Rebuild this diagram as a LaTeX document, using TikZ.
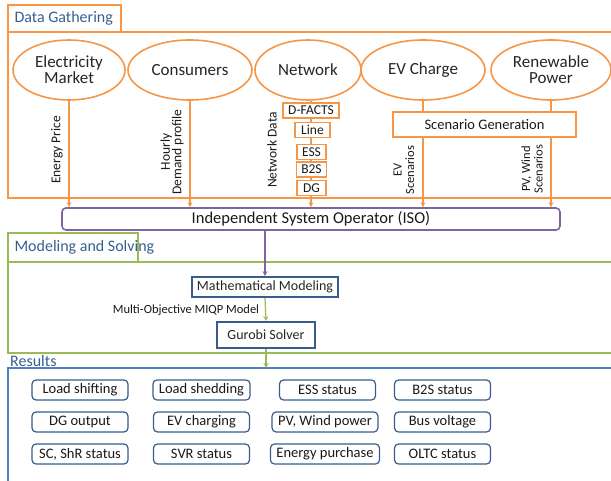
\documentclass[tikz,border=0pt]{standalone}
\usepackage{fontspec}
\setmainfont{Carlito}
\usetikzlibrary{shapes.geometric, arrows.meta}
\definecolor{gatherOrange}{RGB}{247, 150, 70}
\definecolor{solveGreen}{RGB}{155, 187, 89}
\definecolor{isoPurple}{RGB}{128, 100, 162}
\definecolor{resBlue}{RGB}{79, 129, 189}
\definecolor{boxDark}{RGB}{56, 93, 138}
\definecolor{titleBlue}{RGB}{54, 95, 145}
\tikzset{
  source/.style={ellipse, draw=gatherOrange, line width=1.6pt, minimum height=60pt, inner sep=1pt,
    text=black!85, align=center, font=\fontsize{17}{19}\selectfont},
  netbox/.style={draw=gatherOrange, line width=1.6pt, inner xsep=5pt, inner ysep=1pt,
    minimum height=15pt, text=black!90, font=\fontsize{13.5}{15}\selectfont},
  sidelabel/.style={rotate=90, align=center, text=black!90, font=\fontsize{13.5}{14.5}\selectfont},
  frametitle/.style={anchor=west, text=titleBlue, font=\fontsize{16}{18}\selectfont},
  stepbox/.style={draw=boxDark, line width=1.8pt, fill=white, text=black!85,
    font=\fontsize{14}{16}\selectfont},
  resbox/.style={draw=boxDark, line width=1.2pt, rounded corners=4pt, minimum width=96pt,
    minimum height=20pt, inner xsep=6pt, text=black!90, font=\fontsize{14.5}{16}\selectfont},
  arr/.style={-{Stealth[length=5pt, width=5pt]}, line width=1.2pt}
}
\begin{document}
\begin{tikzpicture}[x=1pt, y=-1pt]
  \useasboundingbox (0,0) rectangle (611,481);
  \clip (0,0) rectangle (611,481);

  % data gathering frame
  \draw[gatherOrange, line width=1.6pt] (8,5) rectangle (121,32);
  \draw[gatherOrange, line width=1.6pt] (8,32) rectangle (625,198);
  \node[frametitle] (tgather) at (11,18.5) {Data Gathering};

  \node[source, minimum width=112pt] (market) at (69,70) {Electricity\\[-3pt]Market};
  \node[source, minimum width=124pt] (cons) at (190,70) {Consumers};
  \node[source, minimum width=106pt] (net) at (308,70) {Network};
  \node[source, minimum width=124pt] (evc) at (423,70) {EV Charge};
  \node[source, minimum width=120pt] (renew) at (551,70) {Renewable\\[-3pt]Power};

  \node[netbox] (dfacts) at (311,110.5) {D-FACTS};
  \node[netbox, inner xsep=6pt] (line) at (312.5,130) {Line};
  \node[netbox] (ess) at (311.5,152) {ESS};
  \node[netbox] (btos) at (311.5,169.5) {B2S};
  \node[netbox, inner xsep=6pt] (dg) at (311.5,188) {DG};

  \node[draw=gatherOrange, line width=1.6pt, minimum width=183pt, minimum height=25pt,
    text=black!90, font=\fontsize{14.5}{16}\selectfont] (scen) at (484.5,124.5) {Scenario Generation};

  % ISO
  \node[draw=isoPurple, line width=1.6pt, rounded corners=4pt, minimum width=498pt,
    minimum height=22pt, text=black!90, font=\fontsize{16.5}{18}\selectfont] (iso) at (311,219)
    {Independent System Operator (ISO)};

  \draw[gatherOrange, arr] (market.south) -- (market.south |- iso.north);
  \draw[gatherOrange, arr] (cons.south) -- (cons.south |- iso.north);
  \draw[gatherOrange, line width=1.2pt] (dfacts.north |- net.south) -- (dfacts.north);
  \draw[gatherOrange, line width=1.2pt] (dfacts.south) -- (dfacts.south |- line.north);
  \draw[gatherOrange, line width=1.2pt] (line.south -| dfacts) -- (dfacts |- ess.north);
  \draw[gatherOrange, line width=1.2pt] (ess.south -| dfacts) -- (dfacts |- btos.north);
  \draw[gatherOrange, line width=1.2pt] (btos.south -| dfacts) -- (dfacts |- dg.north);
  \draw[gatherOrange, arr] (dg.south -| dfacts) -- (dfacts |- iso.north);
  \draw[gatherOrange, line width=1.2pt] (evc.south) -- (evc.south |- scen.north);
  \draw[gatherOrange, line width=1.2pt] (renew.south) -- (renew.south |- scen.north);
  \draw[gatherOrange, arr] (evc.south |- scen.south) -- (evc.south |- iso.north);
  \draw[gatherOrange, arr] (renew.south |- scen.south) -- (renew.south |- iso.north);

  \node[sidelabel] (lprice) at (57,150) {Energy Price};
  \node[sidelabel] (ldemand) at (172,152) {Hourly\\[-3pt]Demand profile};
  \node[sidelabel] (lnet) at (272,150) {Network Data};
  \node[sidelabel, font=\fontsize{12.5}{13.5}\selectfont] (lev) at (404,170) {EV\\[-1pt]Scenarios};
  \node[sidelabel, font=\fontsize{12.5}{13.5}\selectfont] (lpv) at (532,169) {PV, Wind\\[-1pt]Scenarios};

  % modeling and solving frame
  \draw[solveGreen, line width=1.6pt] (8,233) rectangle (138,262);
  \draw[solveGreen, line width=1.6pt] (8,262) rectangle (625,353);
  \node[frametitle] (tsolve) at (11,247.5) {Modeling and Solving};

  \node[stepbox, minimum width=146pt, minimum height=20pt, inner xsep=3pt] (math) at (265,287) {Mathematical Modeling};
  \node[stepbox, minimum width=98pt, minimum height=26pt] (gurobi) at (266,335) {Gurobi Solver};
  \node[text=black!90, font=\fontsize{12.5}{14}\selectfont] (lmiqp) at (186,310) {Multi-Objective MIQP Model};

  \draw[isoPurple, arr] (math.north |- iso.south) -- (math.north);
  \draw[solveGreen, arr] (math.south) -- (gurobi.north);

  % results frame
  \draw[resBlue, line width=1.6pt] (8,368) rectangle (625,495);
  \node[frametitle, inner sep=0pt] (tres) at (10,361) {Results};
  \coordinate (restop) at (266,368);
  \draw[solveGreen, arr] (gurobi.south) -- (restop);

  \node[resbox] (r11) at (80,390) {Load shifting};
  \node[resbox] (r12) at (201.5,390) {Load shedding};
  \node[resbox] (r13) at (327.5,390) {ESS status};
  \node[resbox] (r14) at (442.5,390) {B2S status};
  \node[resbox] (r21) at (80,422) {DG output};
  \node[resbox] (r22) at (201.5,422) {EV charging};
  \node[resbox] (r23) at (325,422) {PV, Wind power};
  \node[resbox] (r24) at (442.5,422) {Bus voltage};
  \node[resbox] (r31) at (80,454) {SC, ShR status};
  \node[resbox] (r32) at (201.5,454) {SVR status};
  \node[resbox] (r33) at (325,454) {Energy purchase};
  \node[resbox] (r34) at (442.5,454) {OLTC status};
\end{tikzpicture}
\end{document}
